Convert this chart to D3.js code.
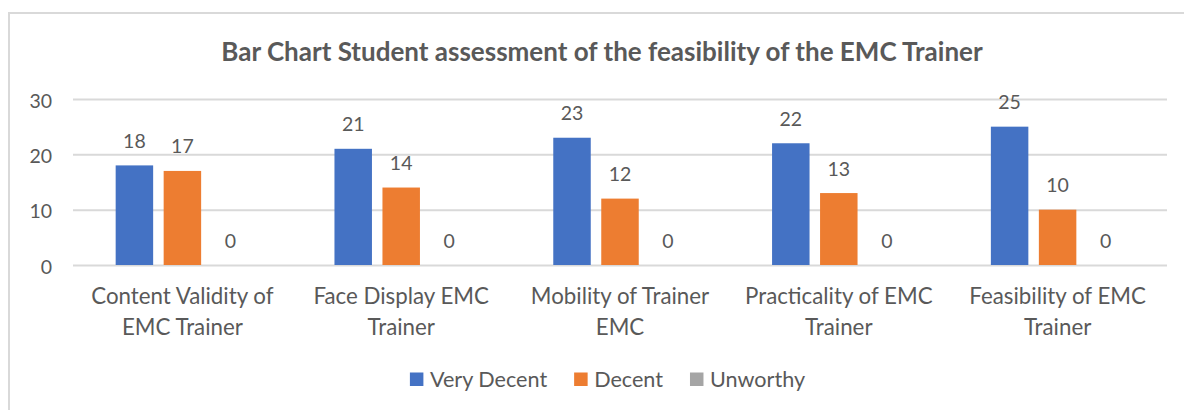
<!DOCTYPE html>
<html>
<head>
<meta charset="utf-8">
<script src="https://cdn.jsdelivr.net/npm/d3@7"></script>
<style>
  html, body { margin: 0; padding: 0; background: #fff; }
  svg { display: block; }
  text { font-family: Lato, "Open Sans", sans-serif; fill: #595959; }
</style>
</head>
<body>
<svg id="chart" width="1184" height="410"></svg>
<script>
// ---- data ----
const categories = [
  ["Content Validity of", "EMC Trainer"],
  ["Face Display EMC", "Trainer"],
  ["Mobility of Trainer", "EMC"],
  ["Practicality of EMC", "Trainer"],
  ["Feasibility of EMC", "Trainer"]
];
const seriesNames = ["Very Decent", "Decent", "Unworthy"];
const veryDecent = [18, 21, 23, 22, 25];
const decent = [17, 14, 12, 13, 10];
const unworthy = [0, 0, 0, 0, 0];
const yTicks = [0, 10, 20, 30];
const titleText = "Bar Chart Student assessment of the feasibility of the EMC Trainer";

const seriesValues = [veryDecent, decent, unworthy];
const colors = ["#4472C4", "#ED7D31", "#A5A5A5"];

const svg = d3.select("#chart");
const plot = { left: 73, right: 1167, top: 99, bottom: 265 };

// chart area border (left & top only visible)
svg.append("path")
  .attr("d", `M9,410 L9,13 L1184,13`)
  .attr("fill", "none").attr("stroke", "#d9d9d9").attr("stroke-width", 2);

// title
svg.append("text")
  .attr("x", 602).attr("y", 61)
  .attr("text-anchor", "middle")
  .style("font-size", "26px").style("font-weight", "bold")
  .text(titleText);

const catKeys = categories.map((c, i) => i);
const x0 = d3.scaleBand().domain(catKeys).range([plot.left, plot.right])
  .paddingInner(0.39).paddingOuter(0.195);
const x1 = d3.scaleBand().domain(seriesNames.map((d, i) => i)).range([0, x0.bandwidth()])
  .paddingInner(0.219).paddingOuter(0);
const y = d3.scaleLinear().domain([0, 30]).range([plot.bottom, plot.top]);

// gridlines + y tick labels
const yAxis = d3.axisLeft(y).tickValues(yTicks).tickSize(-(plot.right - plot.left)).tickPadding(21);
const gy = svg.append("g").attr("transform", `translate(${plot.left},0)`).call(yAxis);
gy.select(".domain").remove();
gy.selectAll(".tick line").attr("stroke", "#d9d9d9").attr("stroke-width", 2);
gy.selectAll(".tick text").style("font-size", "19.5px").attr("fill", "#595959")
  .style("font-family", "Lato, sans-serif").attr("dy", "0.42em");

// bars
const groups = svg.append("g").selectAll("g").data(catKeys).join("g")
  .attr("transform", d => `translate(${x0(d)},0)`);

groups.selectAll("rect").data(ci => seriesValues.map((s, si) => ({ si, v: s[ci] }))).join("rect")
  .attr("x", d => x1(d.si)).attr("width", x1.bandwidth())
  .attr("y", d => y(d.v)).attr("height", d => y(0) - y(d.v))
  .attr("fill", d => colors[d.si]);

groups.selectAll("text.val").data(ci => seriesValues.map((s, si) => ({ si, v: s[ci] }))).join("text")
  .attr("class", "val")
  .attr("x", d => x1(d.si) + x1.bandwidth() / 2)
  .attr("y", d => y(d.v) - 17.5)
  .attr("text-anchor", "middle")
  .style("font-size", "19.5px")
  .text(d => d.v);

// category labels
const xg = svg.append("g");
categories.forEach((lines, ci) => {
  const cxp = x0(ci) + x0.bandwidth() / 2;
  const t = xg.append("text").attr("text-anchor", "middle")
    .attr("x", cxp).attr("y", 303.5)
    .style("font-size", "22.3px");
  lines.forEach((ln, li) => {
    t.append("tspan").attr("x", cxp).attr("dy", li === 0 ? 0 : 31.5).text(ln);
  });
});

// legend
const lg = svg.append("g");
let cx = 0;
seriesNames.forEach((name, i) => {
  const g = lg.append("g");
  g.append("rect").attr("x", 0).attr("y", -14).attr("width", 13.5).attr("height", 13.5).attr("fill", colors[i]);
  const t = g.append("text").attr("x", 20).attr("y", 0).style("font-size", "21.6px").text(name);
  const w = 20 + t.node().getComputedTextLength();
  g.attr("transform", `translate(${cx},0)`);
  cx += w + 27;
});
const totalW = cx - 27;
lg.attr("transform", `translate(${607.5 - totalW / 2},386.5)`);
</script>
</body>
</html>
